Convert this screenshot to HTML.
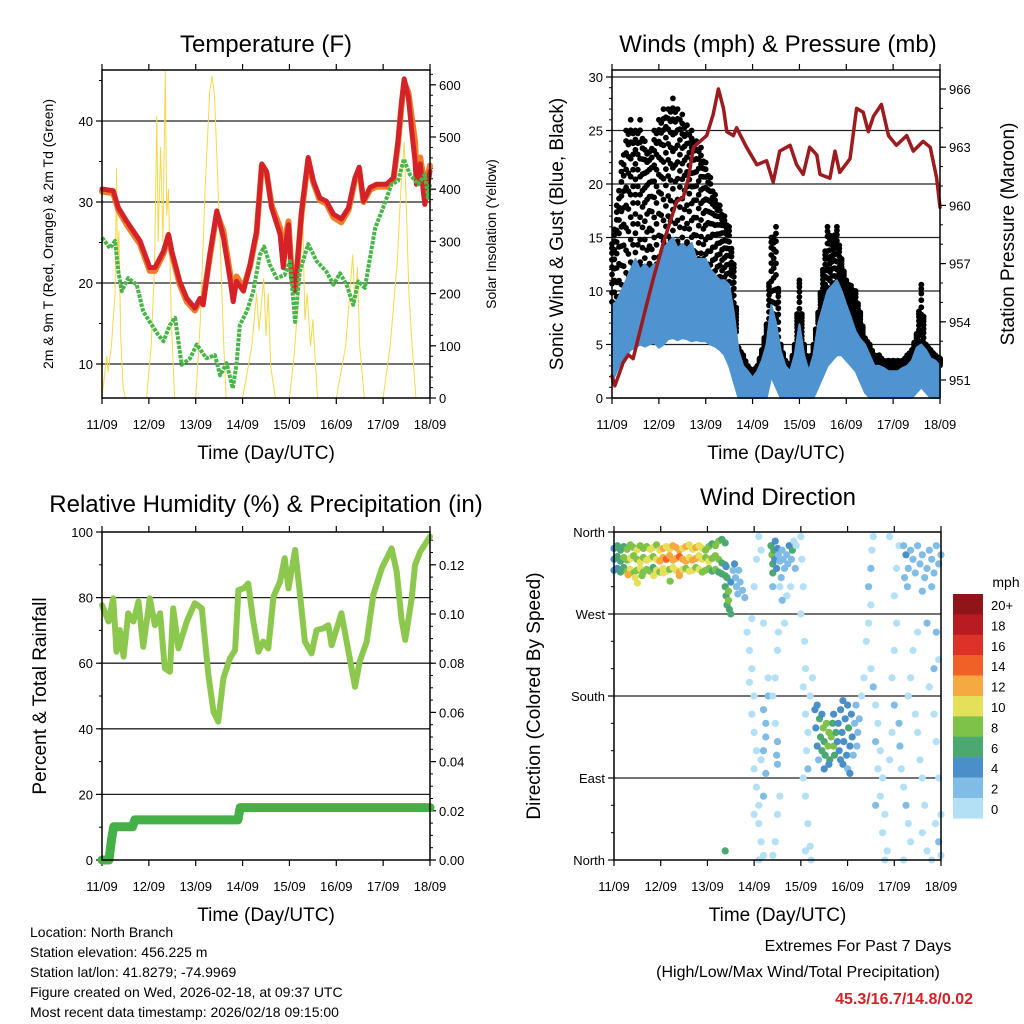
<!DOCTYPE html>
<html><head><meta charset="utf-8"><style>
body{margin:0;background:#fff}
svg{display:block;font-family:"Liberation Sans",Arial,sans-serif}
</style></head><body>
<svg id="s" width="1024" height="1024" viewBox="0 0 1024 1024" xmlns="http://www.w3.org/2000/svg"></svg>
<script>
const dayLabels=['11/09','12/09','13/09','14/09','15/09','16/09','17/09','18/09'];
const tempTicks=[10,20,30,40];
const solarTicks=[0,100,200,300,400,500,600];
const windTicks=[0,5,10,15,20,25,30];
const presTicks=[951,954,957,960,963,966];
const rhTicks=[0,20,40,60,80,100];
const rainTicks=[0,0.02,0.04,0.06,0.08,0.10,0.12];
const dirTickVals=[0,90,180,270,360];
const dirTickLabels=['North','East','South','West','North'];
const cbLabels=['20+','18','16','14','12','10','8','6','4','2','0'];
const cbColors=['#8f1519','#b81c22','#dc3228','#f06128','#f6a940','#e4e05a','#7ec24a','#4aa870','#4a8fc8','#80bce6','#b3e0f5'];

const tT=[0,0.24,0.35,0.53,0.81,1.02,1.13,1.31,1.42,1.49,1.66,1.81,1.98,2.09,2.16,2.3,2.45,2.59,2.73,2.8,2.87,3.02,3.16,3.3,3.41,3.51,3.62,3.8,3.87,3.94,3.98,4.05,4.12,4.26,4.4,4.51,4.65,4.79,4.94,5.11,5.26,5.4,5.49,5.58,5.72,5.86,6.07,6.22,6.32,6.39,6.45,6.54,6.61,6.68,6.71,6.79,6.89,7];
const tempRed=[31.6,31.4,29.3,27.6,25.2,21.9,21.9,23.9,26,23.9,20.2,18.1,16.9,18.1,17.3,23.5,28.9,25.6,20.6,17.7,20.2,19,22.3,26.4,34.7,33.8,29.3,26,21.9,25.6,27.2,20.6,19,28.9,35.5,32.6,30.5,30.1,28.5,27.9,29.3,33,34.3,30.1,31.8,32.2,32.2,33,37.6,42.1,45.2,42.9,38.8,35.1,32.2,34.7,29.7,33.8];
const tempOrange=[31.3,31.1,29,27.2,24.8,21.5,21.5,23.6,25.8,23.6,19.8,17.7,16.6,17.8,17.9,23.2,28.6,26.4,21.3,18.4,20.8,19.4,22.1,26.2,34.5,33.6,29.6,26.8,22.6,26.4,27.6,20.8,19.2,28.6,35.2,32.4,30.2,29.8,28.1,27.5,29,32.7,34,30,31.5,31.9,31.9,32.8,37.3,41.8,44.8,43.5,40.5,37.5,34,35.5,32,34.5];
const tdT=[0,0.17,0.28,0.35,0.42,0.56,0.74,0.88,1.02,1.2,1.31,1.45,1.56,1.7,1.88,2.02,2.23,2.41,2.52,2.66,2.79,2.87,2.94,3.09,3.23,3.37,3.46,3.58,3.73,3.9,4.01,4.12,4.22,4.4,4.58,4.79,4.94,5.08,5.22,5.36,5.47,5.61,5.72,5.83,6,6.18,6.32,6.44,6.57,6.75,6.89,6.96,7];
const tempTd=[25.6,24.3,25.2,21.4,19,20.6,19.8,16.5,15.2,13.6,12.8,14.8,15.7,9.9,10.7,12.4,10.7,11.1,8.6,10.1,7,9.9,14.8,16.5,19,23.5,24.5,22.3,20.6,21,22.7,15.2,21.4,24.8,22.7,21.4,19.8,21.2,19.8,17.3,20.2,19.4,23.1,26.8,29.3,32.2,32.6,35.3,33.4,32.2,33.4,30.5,32.2];
const solarT=[0,0.05,0.1,0.13,0.2,0.24,0.28,0.31,0.33,0.36,0.4,0.45,0.5,0.95,1.05,1.12,1.17,1.2,1.25,1.3,1.35,1.38,1.42,1.48,1.55,2.0,2.1,2.2,2.3,2.35,2.4,2.5,2.6,2.65,3.0,3.1,3.2,3.3,3.35,3.45,3.5,3.55,3.6,3.7,4.0,4.1,4.2,4.28,4.33,4.38,4.45,4.5,4.6,5.0,5.1,5.2,5.35,5.4,5.45,5.5,5.6,6.0,6.15,6.3,6.38,6.45,6.5,6.55,6.62,6.7,7];
const solarV=[0,40,80,50,100,150,200,440,250,320,120,20,0,0,100,250,540,300,480,300,626,350,400,150,0,0,150,400,590,616,580,350,100,0,0,50,100,200,130,229,120,200,60,0,0,80,200,363,150,200,100,150,0,0,50,100,274,180,250,100,0,0,100,260,400,491,350,200,100,0,0];

const windT=[0,0.1,0.2,0.3,0.4,0.5,0.6,0.7,0.8,0.9,1.0,1.1,1.2,1.3,1.4,1.5,1.6,1.7,1.8,1.9,2.0,2.1,2.2,2.3,2.4,2.5,2.6,2.7,2.8,2.9,3.0,3.1,3.2,3.3,3.4,3.5,3.6,3.7,3.8,3.9,4.0,4.1,4.2,4.3,4.4,4.5,4.6,4.7,4.8,4.9,5.0,5.1,5.2,5.3,5.4,5.5,5.6,5.7,5.8,5.9,6.0,6.1,6.2,6.3,6.4,6.5,6.6,6.7,6.8,6.9,7.0];
const windHi=[8.7,9,10,11,12,13,12,12.5,12,12.5,12.5,14,14.5,15,14,14.4,14,14.5,13,13,13,12,11.5,11,11,10.6,8,4.4,3,2.5,1.9,2.5,3.5,5,8.7,7,4.4,3,2.5,4,6.9,4,2.5,4,6.9,8.5,10,10.5,11,10,8.7,7.5,6.2,5.5,5,4,3,3,2.8,2.5,2.5,2.5,2.8,3,3.5,4.7,5,4.5,3.7,3.5,3];
const windLo=[1.5,2.5,3.5,4,4.5,4.7,5,4.8,5,5.2,4.7,5,5.5,5.6,5.4,5.6,5.5,5.3,5.4,5.3,5.3,5,4.8,4.5,4,3,1.5,0,0,0,0,0,0,0,2,1,0,0,0,0,0,0,0,0,1,2,3,3.5,4,4,3.5,3,2.5,1.5,0.5,0,0,0,0,0,0,0,0,0,0,0.5,1,0.5,0,0,0];
const gustHi=[14.4,18,22,25,26,25,26,24,23,25,26,27,27,28,27,26.5,25.5,25,24,23.4,22,20.6,19,18,17,16,12.5,4.7,4,3,2.5,3,4.5,6.9,15,16,5,3.5,3,5,11,5,3,5,8,12,16,15,16,13,11,10.5,10,8,5.6,5,4,4,3.5,3.5,3.5,3.5,3.5,4,4.5,6,10.6,5,4.5,4,3.7];
const presT=[0,0.06,0.24,0.35,0.45,0.74,0.88,1.1,1.38,1.52,1.63,1.74,2.02,2.16,2.27,2.38,2.45,2.59,2.66,2.87,3.09,3.3,3.44,3.58,3.8,3.94,4.08,4.22,4.37,4.44,4.65,4.76,4.86,5.08,5.22,5.36,5.47,5.58,5.75,5.9,6.07,6.29,6.43,6.64,6.79,6.93,7];
const presV=[951.2,950.7,951.9,952.3,952.1,954.9,956.2,958.1,960.2,960.4,961.4,963,963.6,964.7,966,965,963.8,963.6,964,963,962.1,962.3,961.2,962.8,963.1,962.1,961.6,963,962.6,961.6,961.4,962.8,961.7,962.4,965,964.8,963.8,964.6,965.2,963.6,963.1,963.6,962.8,963.3,963,961.4,959.9];

const rhT=[0,0.14,0.24,0.31,0.38,0.46,0.56,0.67,0.78,0.88,1.02,1.13,1.24,1.34,1.45,1.52,1.63,1.81,1.98,2.13,2.27,2.38,2.48,2.59,2.73,2.84,2.91,3.02,3.12,3.23,3.34,3.44,3.55,3.66,3.8,3.9,3.98,4.12,4.22,4.33,4.47,4.58,4.72,4.83,4.9,5.11,5.26,5.4,5.5,5.65,5.79,5.97,6.18,6.29,6.39,6.47,6.61,6.68,6.79,7];
const rhV=[77.7,72.7,79.8,63.5,70.1,62,75.2,72.7,78.8,65,79.8,71.6,75.2,58.4,57.4,76.7,64.5,72.7,78.3,76.7,56.4,45.2,42.2,55.4,61.5,64,82.3,82.8,84.3,72.7,63.5,66.6,64.5,80.3,84.9,92,82.8,94.5,81.8,66.6,63,70.1,70.6,71.6,65.5,75.2,63.5,52.8,60.5,66.6,80.8,88.9,95,87.9,73.7,67.1,79.8,89.9,94,98.6];
const rainT=[0,0.15,0.2,0.25,0.65,0.7,2.9,2.95,7];
const rainV=[0,0,0.008,0.0135,0.0135,0.0163,0.0163,0.0213,0.0213];

const dirT=[0.0,0.07,0.14,0.21,0.28,0.35,0.42,0.49,0.56,0.63,0.70,0.77,0.84,0.91,0.98,1.05,1.12,1.19,1.26,1.33,1.40,1.47,1.54,1.61,1.68,1.75,1.82,1.89,1.96,2.03,2.10,2.17,2.24,2.31,2.38,
0.0,0.07,0.14,0.21,0.28,0.35,0.42,0.49,0.56,0.63,0.70,0.77,0.84,0.91,0.98,1.05,1.12,1.19,1.26,1.33,1.40,1.47,1.54,1.61,1.68,1.75,1.82,1.89,1.96,2.03,2.10,2.17,2.24,2.31,2.38,
0.0,0.07,0.14,0.21,0.28,0.35,0.42,0.49,0.56,0.63,0.70,0.77,0.84,0.91,0.98,1.05,1.12,1.19,1.26,1.33,1.40,1.47,1.54,1.61,1.68,1.75,1.82,1.89,1.96,2.03,2.10,2.17,2.24,2.31,2.38,
0.45,0.5,0.6,0.85,1.2,1.05,1.4,0.3,
2.38,2.4,2.42,2.45,2.42,2.4,2.47,2.5,2.55,2.6,2.62,2.65,2.7,2.58,2.67,2.75,2.8,2.5,2.45,2.38,
2.85,2.9,2.95,2.9,3.0,2.95,3.0,3.05,3.0,3.05,3.1,3.1,3.15,3.2,3.1,3.0,3.05,3.1,3.15,2.95,3.2,3.25,3.2,3.25,3.2,3.3,3.25,3.3,3.2,3.15,3.0,
3.36,3.38,3.4,3.42,3.4,3.45,3.44,3.48,3.5,3.52,3.55,3.6,3.62,3.65,3.58,3.7,3.75,3.72,3.8,3.82,3.85,3.78,3.7,3.9,3.88,3.4,3.55,3.6,3.65,3.5,3.45,3.4,3.45,3.5,3.48,3.5,3.55,3.5,3.45,3.4,3.52,
4.0,4.02,4.05,4.08,4.1,4.05,4.1,4.15,4.12,4.05,4.1,4.15,4.2,4.22,4.1,4.15,4.2,4.25,4.0,
4.3,4.32,4.35,4.38,4.35,4.4,4.42,4.45,4.48,4.5,4.52,4.55,4.58,4.6,4.62,4.65,4.68,4.7,4.72,4.75,4.78,4.8,4.82,4.85,4.88,4.9,4.92,4.95,4.98,5.0,5.02,5.05,5.08,5.1,5.12,5.15,5.18,5.2,5.22,5.25,4.5,4.6,4.45,4.9,5.0,5.05,4.85,4.7,
5.3,5.35,5.4,5.45,5.5,5.45,5.5,5.52,5.55,5.5,5.55,5.6,5.65,5.6,5.7,5.65,5.75,5.7,5.8,5.75,5.85,5.8,5.6,5.9,5.95,5.95,6.0,6.05,6.0,6.05,6.1,5.9,6.0,6.1,6.12,6.15,6.2,6.25,6.3,6.35,6.2,6.3,6.35,6.4,6.45,6.5,6.55,6.6,6.65,6.6,6.7,6.8,6.75,6.85,6.9,6.95,6.85,6.9,6.95,7.0,6.95,7.0,6.88,6.5,6.7,
6.2,6.25,6.3,6.22,6.35,6.4,6.45,6.5,6.55,6.6,6.65,6.7,6.75,6.8,6.85,6.9,6.95,7.0,6.28,6.6,6.8];
const dirV=[342,345,340,344,341,346,343,340,345,342,344,341,343,346,340,342,344,341,345,343,340,342,344,346,341,343,345,342,340,344,347,345,350,352,348,
330,333,328,332,329,331,334,330,327,332,329,331,333,330,328,332,330,334,329,331,333,330,328,332,329,331,334,330,332,328,331,334,330,326,324,
318,320,316,321,317,319,315,318,320,316,319,317,321,318,316,320,317,319,321,318,316,319,320,317,318,321,319,316,318,320,317,319,316,314,312,
310,304,312,312,306,315,312,313,
300,290,280,295,310,322,275,305,318,310,300,292,305,325,318,296,288,270,285,10,
250,230,210,195,180,160,140,120,100,80,60,40,20,5,0,300,330,355,340,265,260,150,165,135,120,180,95,200,70,110,50,
345,335,325,340,315,350,330,320,342,335,328,340,330,320,310,335,345,325,330,340,350,300,290,345,320,300,300,285,260,230,200,180,150,130,115,105,70,50,20,5,250,
355,330,300,240,210,190,160,140,120,90,70,40,15,0,10,100,180,200,270,
165,145,125,110,170,155,135,120,145,130,115,150,125,140,110,135,150,125,115,140,130,150,120,165,140,175,130,155,115,170,145,125,160,135,115,150,170,125,140,155,100,105,160,105,100,95,110,160,
180,200,240,260,280,300,320,340,355,210,190,170,150,130,120,100,90,70,50,30,10,0,60,110,140,200,230,260,290,320,345,355,170,150,125,100,80,60,40,20,0,180,200,230,160,140,110,90,60,30,10,0,190,210,250,220,160,130,90,50,20,5,40,250,260,
345,335,320,310,340,330,315,345,325,335,310,320,340,330,315,345,325,335,300,295,300];
const dirS=[5,6,7,6,8,9,8,10,9,8,9,10,11,9,10,12,11,10,12,13,12,11,12,10,11,12,11,10,9,8,7,9,8,7,6,
4,6,7,8,9,10,9,8,10,9,10,11,9,10,12,13,14,12,13,12,14,13,12,11,13,12,10,11,9,10,9,8,9,7,6,
4,5,6,7,9,10,8,9,10,8,9,8,7,10,9,11,10,9,10,11,12,10,9,11,10,9,10,8,9,8,7,8,6,7,6,
10,10,9,10,9,11,12,12,
7,6,7,8,6,5,6,4,3,3,3,3,3,4,3,3,2,6,8,7,
1,1,1,1,1,1,1,1,1,1,1,1,1,1,1,1,1,1,1,1,1,3,3,3,2,2,2,1,3,1,1,
7,8,7,6,6,5,5,4,4,3,3,3,2,2,3,3,4,2,2,7,1,1,1,1,2,3,1,2,1,1,1,1,1,3,3,2,1,1,1,1,1,
1,1,1,1,1,1,1,1,1,1,1,1,1,1,1,3,1,1,1,
4,4,4,3,5,6,7,6,8,7,7,8,9,8,6,8,7,9,7,6,5,4,4,4,4,4,4,4,5,4,7,4,4,4,3,3,2,3,2,2,4,4,5,4,3,4,5,4,
1,1,1,1,1,3,3,1,1,1,3,1,1,2,1,1,1,1,1,1,1,1,2,1,1,1,1,1,1,1,1,1,2,3,3,1,1,2,1,1,1,1,1,1,1,1,1,1,1,1,1,1,1,3,3,1,1,1,1,1,3,1,1,1,3,
3,4,3,2,2,3,2,2,3,2,2,3,2,2,2,2,2,2,2,2,2];

const NS='http://www.w3.org/2000/svg';
const svg=document.getElementById('s');
function mk(tag,attrs,parent){const e=document.createElementNS(NS,tag);for(const k in attrs)e.setAttribute(k,attrs[k]);(parent||svg).appendChild(e);return e;}
function txt(str,x,y,size,anchor,parent,extra){const e=mk('text',Object.assign({x:x,y:y,'font-size':size,'text-anchor':anchor||'middle',fill:'#000'},extra||{}),parent);e.textContent=str;return e;}

const P1={x0:102,x1:430,y0:70,y1:398}, P2={x0:612,x1:940,y0:70,y1:398}, P3={x0:102,x1:430,y0:532,y1:860}, P4={x0:614,x1:941,y0:532,y1:860};
function xs(P,d){return P.x0+d/7*(P.x1-P.x0);}
const yT=v=>364-(v-10)*8.1, yS=v=>398-v*0.522, yW=v=>398-v*10.7, yP=v=>380-(v-951)*19.4;
const yR=v=>860-v*3.28, yRain=v=>860-v*2460, yD=v=>860-v*328/360;

function pathOf(P,ts,vs,yf){let d='';for(let i=0;i<ts.length;i++){d+=(i?'L':'M')+xs(P,ts[i]).toFixed(1)+','+yf(vs[i]).toFixed(1);}return d;}

function frame(P,name,gridVals,yf,leftTicks,leftFmt,minorL,rightTicks,rightFmt,ryf,minorR){
  const g=mk('g',{});
  
  
  gridVals.forEach(v=>{mk('line',{x1:P.x0,x2:P.x1,y1:yf(v),y2:yf(v),stroke:'#222','stroke-width':1.3},g);});
  for(let i=0;i<=7;i++){const x=xs(P,i);
    mk('line',{x1:x,x2:x,y1:P.y1,y2:P.y1+6,stroke:'#000','stroke-width':1.2},g);
    mk('line',{x1:x,x2:x,y1:P.y0,y2:P.y0-6,stroke:'#000','stroke-width':1.2},g);
    const t=txt(dayLabels[i],x,P.y1+31,13,'middle',g);
    
    
  }
  minorL.forEach(v=>mk('line',{x1:P.x0-3,x2:P.x0,y1:yf(v),y2:yf(v),stroke:'#000','stroke-width':1},g));
  leftTicks.forEach((v,i)=>{mk('line',{x1:P.x0-6,x2:P.x0,y1:yf(v),y2:yf(v),stroke:'#000','stroke-width':1.2},g);
    const t=txt(leftFmt(v,i),P.x0-9,yf(v)+5,13,'end',g);
    
    });
  if(rightTicks){
    minorR.forEach(v=>mk('line',{x1:P.x1,x2:P.x1+3,y1:ryf(v),y2:ryf(v),stroke:'#000','stroke-width':1},g));
    rightTicks.forEach(v=>{mk('line',{x1:P.x1,x2:P.x1+6,y1:ryf(v),y2:ryf(v),stroke:'#000','stroke-width':1.2},g);
      const t=txt(rightFmt(v),P.x1+9,ryf(v)+5,13,'start',g);
      
      });
  }
  return g;
}
function border(P,name){const r=mk('rect',{x:P.x0,y:P.y0,width:P.x1-P.x0,height:P.y1-P.y0,fill:'none',stroke:'#000','stroke-width':1.5});
  
  }
function range(a,b,s){const r=[];for(let v=a;v<=b+1e-9;v+=s)r.push(+v.toFixed(4));return r;}

// ---------- Panel 1 temperature ----------
frame(P1,'temperature',tempTicks,yT,tempTicks,v=>v,range(10,45,5).concat([5]).filter(v=>yT(v)>=P1.y0&&yT(v)<=P1.y1),solarTicks,v=>v,yS,range(0,620,20));
let e;
e=mk('path',{d:pathOf(P1,solarT,solarV,yS),fill:'none',stroke:'#f8d84a','stroke-width':1,'stroke-linejoin':'round'});


e=mk('path',{d:pathOf(P1,tT,tempOrange,yT),fill:'none',stroke:'#ef7d2a','stroke-width':6,'stroke-linejoin':'round','stroke-linecap':'round'});


e=mk('path',{d:pathOf(P1,tT,tempRed,yT),fill:'none',stroke:'#d42228','stroke-width':5,'stroke-linejoin':'round','stroke-linecap':'round'});


e=mk('path',{d:pathOf(P1,tdT,tempTd,yT),fill:'none',stroke:'#48b548','stroke-width':4,'stroke-dasharray':'3.5 1.2','stroke-linejoin':'round'});


border(P1,'temperature');

// ---------- Panel 2 winds ----------
frame(P2,'winds',windTicks,yW,windTicks,v=>v,range(0,30,1),presTicks,v=>v,yP,range(951,967,1).filter(v=>yP(v)>=P2.y0));
const fracs=[0.05,0.2,0.35,0.5,0.62,0.74,0.85,0.93,1];
for(let i=0;i<windT.length;i++){
  const sub=(i<windT.length-1)?[0,0.5]:[0];
  sub.forEach((h,k)=>{
    const t=windT[i]+h*0.1;
    const hi=i<windT.length-1?gustHi[i]+(gustHi[i+1]-gustHi[i])*h:gustHi[i];
    const lo=i<windT.length-1?windHi[i]+(windHi[i+1]-windHi[i])*h:windHi[i];
    fracs.forEach((f,j)=>{
      const v=lo+(hi-lo)*(k?Math.max(0,f-0.06):f);
      e=mk('circle',{cx:xs(P2,t).toFixed(1),cy:yW(v).toFixed(1),r:2.9,fill:'#000'});
      
      
    });
  });
}
let wp='';
for(let i=0;i<windT.length;i++)wp+=(i?'L':'M')+xs(P2,windT[i]).toFixed(1)+','+yW(windHi[i]).toFixed(1);
for(let i=windT.length-1;i>=0;i--)wp+='L'+xs(P2,windT[i]).toFixed(1)+','+yW(windLo[i]).toFixed(1);
e=mk('path',{d:wp+'Z',fill:'#4f93d0',stroke:'#4f93d0','stroke-width':2,'stroke-linejoin':'round'});


e=mk('path',{d:pathOf(P2,presT,presV,yP),fill:'none',stroke:'#9b1b1e','stroke-width':3.5,'stroke-linejoin':'round','stroke-linecap':'round'});


border(P2,'winds');

// ---------- Panel 3 RH ----------
frame(P3,'humidity',[20,40,60,80],yR,rhTicks,v=>v,range(0,100,10),rainTicks,v=>v.toFixed(2),yRain,range(0,0.13,0.005));
e=mk('path',{d:pathOf(P3,rhT,rhV,yR),fill:'none',stroke:'#8dc84e','stroke-width':6,'stroke-linejoin':'round','stroke-linecap':'round'});


e=mk('path',{d:pathOf(P3,rainT,rainV,yRain),fill:'none',stroke:'#44b047','stroke-width':9,'stroke-linejoin':'round','stroke-linecap':'round'});


border(P3,'humidity');

// ---------- Panel 4 wind direction ----------
frame(P4,'wind-direction',[90,180,270],yD,dirTickVals,(v,i)=>dirTickLabels[i],range(0,360,30),null);
for(let i=0;i<dirT.length;i++){
  const bin=Math.min(10,Math.floor(dirS[i]/2));
  const c=mk('circle',{cx:xs(P4,dirT[i]).toFixed(1),cy:yD(dirV[i]).toFixed(1),r:3.6,fill:cbColors[10-bin]});
  
  
}
border(P4,'wind-direction');
const cb=mk('g',{});


cbColors.forEach((c,i)=>{mk('rect',{x:953,y:594+i*20.4,width:30,height:20.6,fill:c},cb);
  const t=txt(cbLabels[i],991,594+i*20.4+16,13,'start',cb);
  
  });
e=txt('mph',1006,587,14,'middle');



// ---------- titles ----------
function T(str,x,y,size,name,rot,anchor,extra){const t=txt(str,x,y,size,anchor||'middle',null,extra);
  if(rot)t.setAttribute('transform','rotate(-90 '+x+' '+y+')');
  
  return t;}
T('Temperature (F)',266,52,24,'temperature-title');
T('Winds (mph) & Pressure (mb)',778,52,24,'winds-title');
T('Relative Humidity (%) & Precipitation (in)',266,512,24,'humidity-title');
T('Wind Direction',778,505,24,'wind-direction-title');
[P1,P2,P3,P4].forEach((P,i)=>T('Time (Day/UTC)',(P.x0+P.x1)/2,P.y1+61,19,'x-axis-title'));
T('2m & 9m T (Red, Orange) & 2m Td (Green)',53,234,14,'temperature-y-axis-title',true);
T('Solar Insolation (Yellow)',496,234,14,'solar-y-axis-title',true);
T('Sonic Wind & Gust (Blue, Black)',563,234,19,'wind-y-axis-title',true);
T('Station Pressure (Maroon)',1014,234,19,'pressure-y-axis-title',true);
T('Percent & Total Rainfall',46,696,19,'humidity-y-axis-title',true);
T('Direction (Colored By Speed)',540,696,19,'direction-y-axis-title',true);
['Location: North Branch','Station elevation: 456.225 m','Station lat/lon: 41.8279; -74.9969','Figure created on Wed, 2026-02-18, at 09:37 UTC','Most recent data timestamp: 2026/02/18 09:15:00'].forEach((s,i)=>T(s,30,937+i*20,14,'station-info-line',false,'start'));
T('Extremes For Past 7 Days',858,951,16,'extremes-title');
T('(High/Low/Max Wind/Total Precipitation)',798,977,16,'extremes-subtitle');
T('45.3/16.7/14.8/0.02',973,1004,16,'extremes-values',false,'end',{fill:'#d42228','font-weight':'bold'});
</script>
</body></html>
